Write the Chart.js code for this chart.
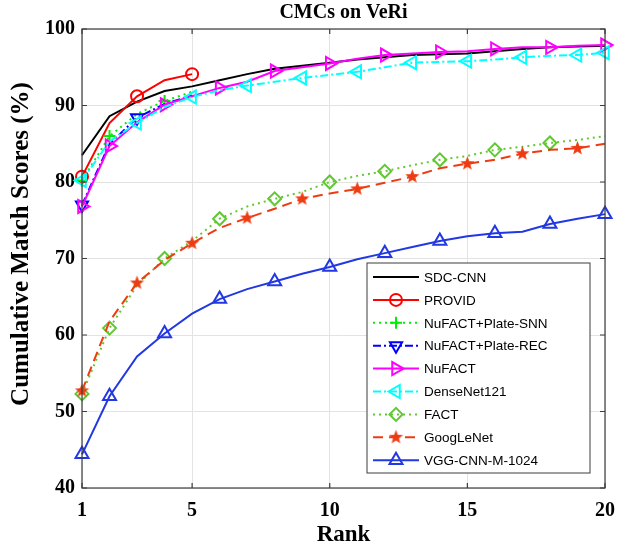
<!DOCTYPE html>
<html>
<head>
<meta charset="utf-8">
<script src="https://cdn.jsdelivr.net/npm/chart.js@4.4.1/dist/chart.umd.min.js"></script>
<style>
  body { margin: 0; background: #fff; }
  #wrap { width: 628px; height: 551px; }
</style>
</head>
<body>
<div id="wrap"><canvas id="cmc" width="628" height="551"></canvas></div>
<script>
// Chart data
const ranks = [1, 2, 3, 4, 5, 6, 7, 8, 9, 10, 11, 12, 13, 14, 15, 16, 17, 18, 19, 20];
const xTicks = [1, 5, 10, 15, 20];

const sdcCnn    = [83.5, 88.6, 90.5, 91.9, 92.5, 93.3, 94.1, 94.8, 95.2, 95.6, 96.0, 96.3, 96.6, 96.7, 96.8, 97.1, 97.4, 97.6, 97.7, 97.8];
const provid    = [80.7, 87.7, 91.2, 93.3, 94.1];
const plateSnn  = [80.2, 86.0, 88.9, 90.6, 91.8];
const plateRec  = [77.0, 85.0, 88.4, 90.2, 91.3];
const nufact    = [76.8, 84.7, 87.8, 90.1, 91.2, 92.3, 93.1, 94.5, 95.0, 95.5, 96.1, 96.6, 96.8, 97.0, 97.1, 97.4, 97.6, 97.6, 97.8, 97.9];
const densenet  = [80.2, 85.3, 87.7, 89.8, 91.1, 92.0, 92.6, 93.1, 93.6, 94.0, 94.4, 95.0, 95.6, 95.7, 95.8, 96.0, 96.3, 96.5, 96.6, 96.9];
const fact      = [52.3, 60.9, 66.5, 70.0, 72.3, 75.2, 76.8, 77.8, 78.7, 80.0, 80.8, 81.4, 82.2, 82.9, 83.4, 84.2, 84.6, 85.1, 85.5, 86.0];
const googlenet = [52.7, 61.8, 66.8, 69.8, 72.0, 74.0, 75.3, 76.5, 77.8, 78.5, 79.1, 79.9, 80.7, 81.8, 82.4, 82.9, 83.7, 84.2, 84.4, 85.0];
const vgg       = [44.4, 52.0, 57.2, 60.2, 62.8, 64.7, 66.0, 67.0, 68.0, 68.9, 69.9, 70.7, 71.5, 72.3, 72.9, 73.3, 73.5, 74.5, 75.2, 75.8];

// ranks that carry a marker
const evenMarks = [1, 2, 4, 6, 8, 10, 12, 14, 16, 18, 20];
const oddMarks  = [1, 3, 5, 7, 9, 11, 13, 15, 17, 19, 20];

const serif = '"Liberation Serif", "Times New Roman", serif';

// filled star, used as a point style
function makeStar(color, r) {
    const c = document.createElement('canvas');
    const s = Math.ceil(r * 2 + 2);
    c.width = s; c.height = s;
    const g = c.getContext('2d');
    g.fillStyle = color;
    g.beginPath();
    for (let i = 0; i < 10; i++) {
        const rad = (i % 2 === 0) ? r : r * 0.42;
        const a = -Math.PI / 2 + i * Math.PI / 5;
        const px = s / 2 + Math.cos(a) * rad;
        const py = s / 2 + Math.sin(a) * rad;
        if (i === 0) g.moveTo(px, py); else g.lineTo(px, py);
    }
    g.closePath();
    g.fill();
    return c;
}

const series = [
    { label: 'SDC-CNN', data: sdcCnn, color: '#000000', dash: [], style: false },
    { label: 'PROVID', data: provid, color: '#ff0000', dash: [], style: 'circle', r: 6, marks: [1, 3, 5] },
    { label: 'NuFACT+Plate-SNN', data: plateSnn, color: '#00ee00', dash: [2, 4], style: 'cross', r: 6, marks: [1, 2, 4] },
    { label: 'NuFACT+Plate-REC', data: plateRec, color: '#0000ff', dash: [8, 3, 2, 3], style: 'triangle', rot: 180, r: 7, marks: [1, 3] },
    { label: 'NuFACT', data: nufact, color: '#ff00ff', dash: [], style: 'triangle', rot: 90, r: 7.5, marks: evenMarks },
    { label: 'DenseNet121', data: densenet, color: '#00ffff', dash: [8, 3, 2, 3], style: 'triangle', rot: -90, r: 7.5, marks: oddMarks },
    { label: 'FACT', data: fact, color: '#62c832', dash: [2, 4], style: 'rectRot', r: 6.5, marks: evenMarks.slice(0, 10) },
    { label: 'GoogLeNet', data: googlenet, color: '#ee3c12', dash: [10, 6], style: 'star', r: 7.5, marks: oddMarks.slice(0, 10) },
    { label: 'VGG-CNN-M-1024', data: vgg, color: '#2238e2', dash: [], style: 'triangle', rot: 0, r: 7.5, marks: evenMarks }
];

series.forEach(s => {
    if (s.style === 'star') s.image = makeStar(s.color, s.r);
});

const datasets = series.map((s, i) => ({
    label: s.label,
    data: s.data.map((v, k) => ({ x: ranks[k], y: v })),
    borderColor: s.color,
    backgroundColor: 'rgba(0,0,0,0)',
    borderWidth: 2,
    borderDash: s.dash,
    tension: 0,
    clip: false,
    order: series.length - i,
    pointStyle: s.image || s.style || 'circle',
    pointRotation: s.rot || 0,
    pointBorderWidth: 2,
    pointBorderColor: s.color,
    pointBackgroundColor: 'rgba(0,0,0,0)',
    pointRadius: ctx => (s.marks && s.marks.includes(ranks[ctx.dataIndex])) ? s.r : 0,
    pointHoverRadius: 0
}));

// frame, inward ticks, title, y label and the legend box
const decorations = {
    id: 'decorations',
    afterDraw(chart) {
        const { ctx, chartArea: a, scales } = chart;
        ctx.save();
        ctx.strokeStyle = '#3c3c3c';
        ctx.lineWidth = 1.2;
        ctx.setLineDash([]);
        ctx.strokeRect(a.left, a.top, a.right - a.left, a.bottom - a.top);
        const tl = 5;
        ctx.beginPath();
        scales.x.ticks.forEach(t => {
            const px = scales.x.getPixelForValue(t.value);
            ctx.moveTo(px, a.bottom); ctx.lineTo(px, a.bottom - tl);
            ctx.moveTo(px, a.top); ctx.lineTo(px, a.top + tl);
        });
        scales.y.ticks.forEach(t => {
            const py = scales.y.getPixelForValue(t.value);
            ctx.moveTo(a.left, py); ctx.lineTo(a.left + tl, py);
            ctx.moveTo(a.right, py); ctx.lineTo(a.right - tl, py);
        });
        ctx.stroke();

        // title
        ctx.fillStyle = '#000';
        ctx.font = 'bold 20px ' + serif;
        ctx.textAlign = 'center';
        ctx.textBaseline = 'middle';
        ctx.fillText('CMCs on VeRi', (a.left + a.right) / 2, 13);

        // y axis label
        ctx.save();
        ctx.translate(22, 244);
        ctx.rotate(-Math.PI / 2);
        ctx.font = 'bold 25px ' + serif;
        ctx.fillText('Cumulative Match Scores (%)', 0, 0);
        ctx.restore();

        // legend
        const bx = a.right - 238, by = a.bottom - 225, bw = 223, bh = 210;
        ctx.fillStyle = '#fff';
        ctx.fillRect(bx, by, bw, bh);
        ctx.strokeStyle = '#3c3c3c';
        ctx.lineWidth = 1;
        ctx.strokeRect(bx, by, bw, bh);
        ctx.font = '13.5px "Liberation Sans", Arial, sans-serif';
        ctx.textAlign = 'left';
        series.forEach((s, i) => {
            const y = by + 14 + i * 22.9;
            ctx.strokeStyle = s.color;
            ctx.lineWidth = 2;
            ctx.setLineDash(s.dash);
            ctx.beginPath();
            ctx.moveTo(bx + 6, y); ctx.lineTo(bx + 52, y);
            ctx.stroke();
            ctx.setLineDash([]);
            if (s.style) {
                ctx.fillStyle = 'rgba(0,0,0,0)';
                Chart.helpers.drawPoint(ctx, {
                    pointStyle: s.image || s.style,
                    rotation: s.rot || 0,
                    radius: s.r,
                    borderWidth: 2
                }, bx + 29, y);
            }
            ctx.fillStyle = '#000';
            ctx.fillText(s.label, bx + 57, y + 1);
        });
        ctx.restore();
    }
};

new Chart(document.getElementById('cmc'), {
    type: 'line',
    data: { datasets: datasets },
    options: {
        responsive: false,
        animation: false,
        layout: { padding: { top: 29, right: 23, left: 0, bottom: 0 } },
        plugins: {
            legend: { display: false },
            tooltip: { enabled: false }
        },
        scales: {
            x: {
                type: 'linear',
                min: 1,
                max: 20,
                afterBuildTicks: scale => { scale.ticks = xTicks.map(v => ({ value: v })); },
                afterFit: scale => { scale.height = 63; },
                grid: { color: '#e3e3e3', drawTicks: false },
                border: { display: false },
                ticks: {
                    padding: 11,
                    color: '#000',
                    font: { family: serif, size: 20, weight: 'bold' }
                },
                title: {
                    display: true,
                    text: 'Rank',
                    color: '#000',
                    padding: { top: 0, bottom: 2 },
                    font: { family: serif, size: 23, weight: 'bold' }
                }
            },
            y: {
                min: 40,
                max: 100,
                afterFit: scale => { scale.width = 82; },
                grid: { color: '#e3e3e3', drawTicks: false },
                border: { display: false },
                ticks: {
                    stepSize: 10,
                    padding: 7,
                    color: '#000',
                    font: { family: serif, size: 20, weight: 'bold' }
                }
            }
        }
    },
    plugins: [decorations]
});
</script>
</body>
</html>
